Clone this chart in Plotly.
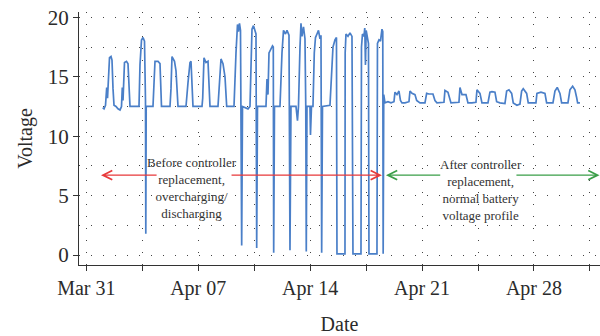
import pandas as pd
import plotly.graph_objects as go

BASE = pd.Timestamp("2018-03-31")

# (day offset from Mar 31 00:00, voltage)
before_points = [
    (1.026, 12.4), (1.107, 12.3), (1.201, 12.6), (1.276, 14.1), (1.326, 13.2), (1.388, 15.5), (1.451, 16.6),
    (1.545, 16.7), (1.607, 16.4), (1.670, 14.0), (1.732, 12.6), (1.857, 12.5), (1.982, 12.3), (2.108, 12.2),
    (2.201, 12.5), (2.251, 14.1), (2.295, 13.0), (2.389, 16.2), (2.514, 16.3), (2.608, 16.1), (2.670, 13.5),
    (2.733, 12.5), (3.296, 12.5),
    (3.358, 16.0), (3.452, 18.1), (3.546, 18.3), (3.640, 18.0), (3.702, 13.0), (3.721, 1.8), (3.746, 12.5),
    (4.171, 12.5), (4.296, 16.3), (4.484, 16.3), (4.609, 16.1), (4.703, 12.5), (5.235, 12.5),
    (5.297, 14.0), (5.360, 16.7), (5.516, 16.3), (5.610, 15.5), (5.735, 12.5), (6.235, 12.5),
    (6.360, 14.5), (6.485, 16.2), (6.548, 16.3), (6.673, 12.5), (7.236, 12.5),
    (7.280, 13.2), (7.361, 16.6), (7.486, 16.2), (7.611, 16.3), (7.736, 12.5), (8.236, 12.5),
    (8.424, 16.5), (8.549, 16.1), (8.674, 15.0), (8.781, 12.5), (9.237, 12.5),
    (9.362, 17.0), (9.456, 19.4), (9.518, 18.8), (9.581, 19.5), (9.644, 18.9), (9.675, 12.5), (9.718, 0.8),
    (9.769, 12.5), (10.113, 12.3), (10.238, 12.5),
    (10.300, 17.0), (10.363, 19.0), (10.457, 19.3), (10.550, 18.8), (10.613, 18.6), (10.657, 0.6),
    (10.707, 12.5), (11.113, 12.5),
    (11.238, 12.5), (11.301, 14.8), (11.363, 13.5), (11.426, 17.0), (11.551, 17.3), (11.645, 17.6),
    (11.695, 17.5), (11.720, 0.2), (11.770, 12.5), (12.114, 12.5),
    (12.239, 17.0), (12.333, 18.9), (12.458, 18.6), (12.552, 18.9), (12.677, 18.5), (12.739, 0.4), (12.802, 12.5),
    (13.115, 12.5), (13.208, 11.3), (13.271, 12.5), (13.365, 17.5), (13.427, 19.5), (13.490, 18.4),
    (13.584, 19.2), (13.677, 18.2), (13.727, 12.5), (13.759, 0.3), (13.802, 12.5),
    (13.990, 12.5), (14.021, 10.1), (14.084, 12.5), (14.178, 12.5), (14.259, 17.0), (14.334, 18.3),
    (14.428, 18.6), (14.522, 18.9), (14.615, 18.2), (14.678, 18.5), (14.722, 0.2), (14.772, 12.5),
    (15.241, 12.6), (15.429, 17.5), (15.553, 18.1), (15.647, 18.3), (15.679, 0.1), (16.179, 0.1),
    (16.191, 17.0), (16.241, 18.6), (16.367, 18.4), (16.492, 18.7), (16.617, 18.4), (16.679, 0.1), (17.180, 0.1),
    (17.211, 17.5), (17.273, 18.6), (17.367, 18.4), (17.417, 19.1), (17.461, 16.0), (17.505, 18.9),
    (17.586, 18.0), (17.649, 17.8), (17.680, 0.1), (18.180, 0.1),
    (18.211, 17.8), (18.305, 18.1), (18.399, 18.0), (18.493, 19.0), (18.543, 18.8), (18.568, 0.1),
]
after_points = [
    (18.605, 13.5), (18.680, 12.8), (18.868, 12.9), (19.056, 12.8), (19.243, 12.9), (19.306, 13.7),
    (19.431, 13.5), (19.556, 13.8), (19.650, 13.0), (19.744, 12.8), (19.931, 12.8), (20.181, 12.9),
    (20.244, 13.8), (20.369, 13.6), (20.557, 13.5), (20.663, 13.0), (20.870, 12.8), (21.182, 12.8),
    (21.288, 13.6), (21.432, 13.55), (21.682, 13.55), (21.807, 13.0), (21.933, 12.8), (22.370, 12.85),
    (22.433, 13.85), (22.621, 13.7), (22.808, 12.8), (23.058, 12.8), (23.308, 12.85), (23.371, 14.1),
    (23.496, 13.5), (23.746, 13.5), (23.871, 12.8), (24.121, 12.8), (24.371, 12.85), (24.434, 13.9),
    (24.622, 13.6), (24.747, 12.8), (25.122, 12.8), (25.247, 13.7), (25.372, 13.75), (25.560, 13.7),
    (25.666, 12.9), (25.872, 12.8), (26.185, 12.75), (26.291, 13.8), (26.435, 13.9), (26.604, 13.6),
    (26.704, 12.8), (26.935, 12.6), (27.123, 12.7), (27.229, 13.8), (27.329, 14.0), (27.542, 13.6),
    (27.642, 12.8), (28.124, 12.8), (28.186, 13.6), (28.437, 13.7), (28.687, 13.6), (28.793, 12.8),
    (29.187, 12.8), (29.312, 13.8), (29.456, 14.1), (29.625, 13.6), (29.731, 12.8), (30.125, 12.8),
    (30.250, 13.9), (30.419, 14.2), (30.562, 13.9), (30.662, 13.3), (30.731, 12.8), (30.875, 12.8),
]

days = [p[0] for p in before_points + after_points]
volts = [p[1] for p in before_points + after_points]
dates = BASE + pd.to_timedelta(days, unit="D")

tick_days = [0, 3.5, 7, 10.5, 14, 17.5, 21, 24.5, 28, 31.5]
tick_text = ["Mar 31", "", "Apr 07", "", "Apr 14", "", "Apr 21", "", "Apr 28", ""]
y_ticks = [0, 5, 10, 15, 20]

x_range_days = [-0.457, 32.13]
y_range = [-0.84, 20.45]

# arrows: (head day, tail day, voltage)
red_arrows = [(0.919, 4.49, 6.72), (18.49, 8.99, 6.72)]
green_arrows = [(18.74, 22.23, 6.72), (32.1, 26.81, 6.72)]
before_label = "Before controller<br>replacement,<br>overcharging/<br>discharging"
after_label = "After controller<br>replacement,<br>normal battery<br>voltage profile"
before_label_pos = (6.61, 5.67)
after_label_pos = (24.71, 5.46)

def d(x):
    return BASE + pd.Timedelta(days=x)

SERIF = "Liberation Serif, Times New Roman, serif"
TXT = "#2b2b2b"
GRID = "#444444"
DOTS = "1.3px,10.7px"

fig = go.Figure()
fig.add_trace(go.Scatter(x=dates, y=volts, mode="lines",
                         line=dict(color="#4a7fc8", width=1.7), showlegend=False))

annotations = []
for (head, tail, v), col in [(a, "#e8393a") for a in red_arrows] + [(a, "#3a9e48") for a in green_arrows]:
    annotations.append(dict(x=d(head), y=v, ax=d(tail), ay=v, xref="x", yref="y", axref="x", ayref="y",
                            text="", showarrow=True, arrowhead=5, arrowsize=1.3, arrowwidth=1.4,
                            arrowcolor=col, standoff=0, startstandoff=0))
for lab, (xd, yv) in [(before_label, before_label_pos), (after_label, after_label_pos)]:
    annotations.append(dict(x=d(xd), y=yv, xref="x", yref="y", text=lab, showarrow=False,
                            font=dict(family=SERIF, size=13, color="#333333"),
                            xanchor="center", yanchor="middle", align="center"))

fig.update_layout(
    width=600, height=336,
    margin=dict(l=79, r=0, t=12, b=71),
    paper_bgcolor="white", plot_bgcolor="white",
    font=dict(family=SERIF, size=19, color=TXT),
    annotations=annotations,
    xaxis=dict(
        range=[d(x_range_days[0]), d(x_range_days[1])],
        tickmode="array", tickvals=[d(t) for t in tick_days], ticktext=tick_text,
        ticks="outside", ticklen=5, tickwidth=1.2, tickcolor="#333",
        showline=True, linecolor="#333", linewidth=1.3,
        showgrid=True, gridcolor=GRID, gridwidth=1.3, griddash=DOTS,
        zeroline=False,
        tickfont=dict(family=SERIF, size=20, color=TXT),
        title=dict(text="Date", font=dict(family=SERIF, size=20, color=TXT), standoff=17),
    ),
    yaxis=dict(
        range=y_range, tickmode="array", tickvals=y_ticks,
        ticks="outside", ticklen=5, tickwidth=1.2, tickcolor="#333",
        showline=True, linecolor="#333", linewidth=1.3,
        showgrid=True, gridcolor=GRID, gridwidth=1.3, griddash=DOTS,
        minor=dict(dtick=2.5, tick0=0, showgrid=True, gridcolor=GRID, gridwidth=1.3,
                   griddash=DOTS, ticks=""),
        zeroline=False,
        tickfont=dict(family=SERIF, size=21, color=TXT),
        title=dict(text="Voltage", font=dict(family=SERIF, size=20, color=TXT), standoff=9),
    ),
)

fig.write_html("out.html")
